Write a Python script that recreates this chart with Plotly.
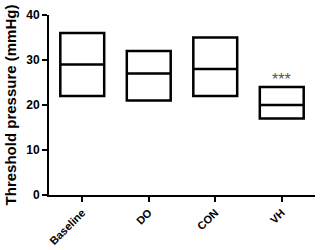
import plotly.graph_objects as go

categories = ["Baseline", "DO", "CON", "VH"]
mins = [22, 21, 22, 17]
medians = [29, 27, 28, 20]
maxs = [36, 32, 35, 24]
y_ticks = [0, 10, 20, 30, 40]

FONT = "Arial, Liberation Sans, Helvetica, sans-serif"

fig = go.Figure()
fig.add_trace(go.Box(
    x=categories, q1=mins, median=medians, q3=maxs,
    lowerfence=mins, upperfence=maxs,
    fillcolor="white", line=dict(color="black", width=2.5),
    width=0.66, boxpoints=False, whiskerwidth=0, showlegend=False,
))
fig.add_annotation(x="VH", y=maxs[3], text="***", showarrow=False, yshift=8,
                   font=dict(family=FONT, size=16, color="#555"))

fig.update_layout(
    width=320, height=250, margin=dict(l=49, r=5, t=15, b=55),
    plot_bgcolor="white", paper_bgcolor="white",
    font=dict(family=FONT, color="black"),
    xaxis=dict(range=[-0.5, 3.5], showline=True, linecolor="black", linewidth=2,
               ticks="outside", ticklen=5, tickwidth=2, tickcolor="black",
               tickangle=-45, tickfont=dict(size=11, family=FONT, weight="bold"),
               showgrid=False, zeroline=False, automargin=False),
    yaxis=dict(range=[0, 40], tickvals=y_ticks, showline=True, linecolor="black", linewidth=2,
               ticks="outside", ticklen=5, tickwidth=2, tickcolor="black",
               tickfont=dict(size=12, family=FONT, weight="bold"),
               showgrid=False, zeroline=False, automargin=False,
               title=dict(text="Threshold pressure (mmHg)",
                          font=dict(size=15, family=FONT, weight="bold"), standoff=6)),
)
fig.write_html("out.html")
